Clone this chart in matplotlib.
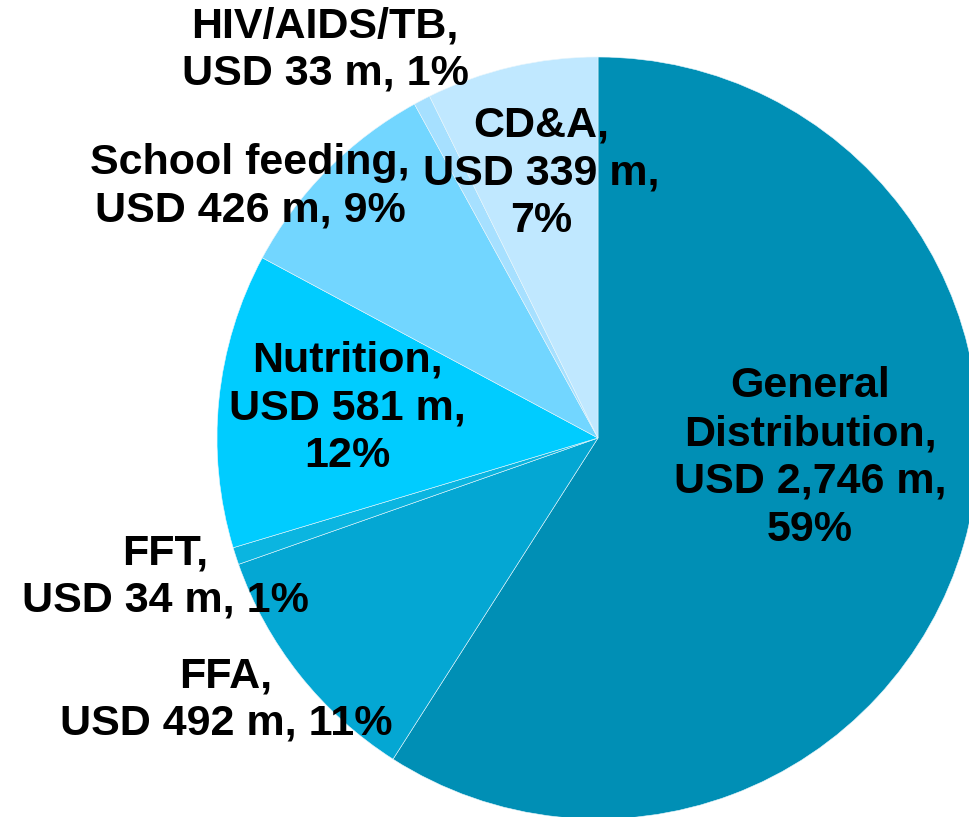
import matplotlib
matplotlib.use("Agg")
import matplotlib.pyplot as plt

# slices clockwise from 12 o'clock
categories = ["General\nDistribution", "FFA", "FFT", "Nutrition", "School feeding",
              "HIV/AIDS/TB", "CD&A"]
values = [2746, 492, 34, 581, 426, 33, 339]
shares = [59, 11, 1, 12, 9, 1, 7]
colors = ["#008FB5", "#04A7D3", "#0BB5E0", "#00CCFF", "#72D6FF", "#A6E0FF", "#C0E8FF"]

label_texts = [
    "General\nDistribution,\nUSD 2,746 m,\n59%",
    "FFA,\nUSD 492 m, 11%",
    "FFT,\nUSD 34 m, 1%",
    "Nutrition,\nUSD 581 m,\n12%",
    "School feeding,\nUSD 426 m, 9%",
    "HIV/AIDS/TB,\nUSD 33 m, 1%",
    "CD&A,\nUSD 339 m,\n7%",
]
# label centres in pixel coords (x, y from top)
label_pos = [(810, 458), (226, 700), (165, 577), (347, 408), (250, 187), (325, 50), (541, 173)]

W, H = 970, 817
fig = plt.figure(figsize=(W / 100, H / 100), dpi=100)
ax = fig.add_axes([0, 0, 1, 1])

ax.pie(values, colors=colors, startangle=90, counterclock=False,
       center=(598, H - 438), radius=381,
       wedgeprops=dict(edgecolor="#E8F6FC", linewidth=0.4), frame=True)
ax.set_xlim(0, W)
ax.set_ylim(0, H)
ax.set_aspect("equal")
ax.axis("off")

for txt, (x, y) in zip(label_texts, label_pos):
    ax.text(x, H - y, txt, ha="center", va="center", multialignment="center",
            fontsize=31, fontweight="bold", family="Liberation Sans",
            color="black", linespacing=1.25)

fig.savefig("out.png", dpi=100)
